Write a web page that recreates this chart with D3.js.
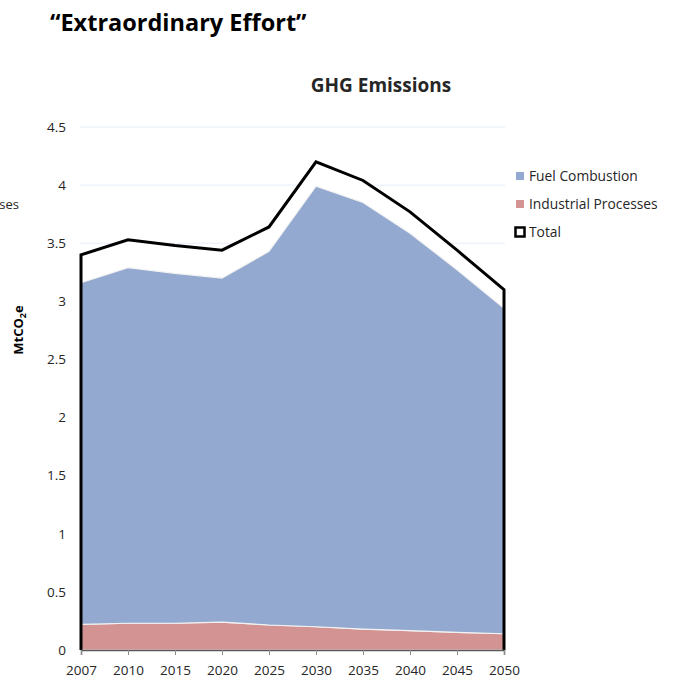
<!DOCTYPE html>
<html>
<head>
<meta charset="utf-8">
<script src="https://cdn.jsdelivr.net/npm/d3@7"></script>
<style>
  body { margin: 0; background: #fff; }
  svg text { font-family: "Open Sans", "DejaVu Sans", sans-serif; fill: #262626; }
</style>
</head>
<body>
<svg width="676" height="683"></svg>
<script>
// data
var years = ["2007", "2010", "2015", "2020", "2025", "2030", "2035", "2040", "2045", "2050"];
var industrial = [0.22, 0.23, 0.23, 0.24, 0.215, 0.20, 0.18, 0.166, 0.152, 0.14];
var fuel = [2.94, 3.06, 3.01, 2.96, 3.215, 3.79, 3.67, 3.42, 3.12, 2.80];
var total = [3.40, 3.53, 3.48, 3.44, 3.64, 4.20, 4.04, 3.77, 3.44, 3.10];
var yTicks = [0, 0.5, 1, 1.5, 2, 2.5, 3, 3.5, 4, 4.5];

var svg = d3.select("svg");
var margin = {left: 81, right: 172, top: 127, bottom: 33};
var width = 676 - margin.left - margin.right,
    height = 683 - margin.top - margin.bottom;

var x = d3.scalePoint().domain(years).range([0, width]);
var y = d3.scaleLinear().domain([0, 4.5]).range([height, 0]);

var g = svg.append("g").attr("transform", "translate(" + margin.left + "," + margin.top + ")");

// page title + chart title
svg.append("text").attr("x", 50).attr("y", 31)
    .style("font-size", "23.5px").style("font-weight", "bold").style("fill", "#000")
    .text("\u201CExtraordinary Effort\u201D");
svg.append("text").attr("x", 381).attr("y", 92).attr("text-anchor", "middle")
    .style("font-size", "19px").style("font-weight", "bold")
    .text("GHG Emissions");
// leftover text of neighbouring chart, cut off at the edge as in the source
svg.append("text").attr("x", 19).attr("y", 209).attr("text-anchor", "end")
    .style("font-size", "13px").text("Industrial Processes");

// gridlines
g.selectAll(".grid").data(yTicks.slice(1)).enter().append("line")
    .attr("x1", -1).attr("x2", width + 1)
    .attr("y1", function(d) { return y(d); }).attr("y2", function(d) { return y(d); })
    .attr("stroke", "#e6ecf6").attr("stroke-width", 1);

// total area, white fill
var totalArea = d3.area()
    .x(function(d, i) { return x(years[i]); })
    .y0(y(0)).y1(function(d) { return y(d); });
g.append("path").datum(total)
    .attr("d", totalArea)
    .attr("fill", "#fff");

// stacked areas
var rows = years.map(function(yr, i) { return {year: yr, industrial: industrial[i], fuel: fuel[i]}; });
var stack = d3.stack().keys(["industrial", "fuel"]);
var series = stack(rows);
var colors = {industrial: "#d39392", fuel: "#94a9d0"};
var area = d3.area()
    .x(function(d) { return x(d.data.year); })
    .y0(function(d) { return y(d[0]); })
    .y1(function(d) { return y(d[1]); });
g.selectAll(".layer").data(series).enter().append("path")
    .attr("d", area)
    .attr("fill", function(d) { return colors[d.key]; })
    .attr("stroke", "#f2f2f2").attr("stroke-width", 1.2);

// total outline on top (left edge, top line, right edge)
var outline = [[x(years[0]), y(0)]]
    .concat(total.map(function(d, i) { return [x(years[i]), y(d)]; }))
    .concat([[x(years[years.length - 1]), y(0)]]);
g.append("path")
    .attr("d", d3.line()(outline))
    .attr("fill", "none").attr("stroke", "#000").attr("stroke-width", 3)
    .attr("stroke-linejoin", "miter");

// axes
var xAxis = g.append("g").attr("transform", "translate(0," + height + ")")
    .call(d3.axisBottom(x).tickSize(5).tickPadding(10));
xAxis.select(".domain").attr("stroke", "#595959").attr("stroke-width", 1.5);
xAxis.selectAll(".tick line").attr("stroke", "#8c8c8c");
xAxis.selectAll("text").style("font-size", "13.5px").style("fill", "#262626");

var yAxis = g.append("g")
    .call(d3.axisLeft(y).tickValues(yTicks).tickSize(0).tickPadding(15)
        .tickFormat(function(d) { return d3.format("")(d); }));
yAxis.select(".domain").remove();
yAxis.selectAll("text").style("font-size", "13.5px").style("fill", "#262626");

// y label
var yl = svg.append("text").attr("transform", "translate(23,330) rotate(-90)")
    .attr("text-anchor", "middle").style("font-size", "13px").style("font-weight", "bold")
    .style("fill", "#000");
yl.append("tspan").text("MtCO");
yl.append("tspan").attr("dy", 3).style("font-size", "9px").text("2");
yl.append("tspan").attr("dy", -3).text("e");

// legend
var legend = [
  {name: "Fuel Combustion", fill: colors.fuel, stroke: "none"},
  {name: "Industrial Processes", fill: colors.industrial, stroke: "none"},
  {name: "Total", fill: "#fff", stroke: "#000"}
];
var lg = svg.append("g").attr("transform", "translate(514,170)");
var li = lg.selectAll("g").data(legend).enter().append("g")
    .attr("transform", function(d, i) { return "translate(0," + i * 28 + ")"; });
li.append("rect")
    .attr("x", function(d) { return d.stroke === "none" ? 2 : 1.5; })
    .attr("y", function(d) { return d.stroke === "none" ? 2 : 1.5; })
    .attr("width", function(d) { return d.stroke === "none" ? 8 : 9; })
    .attr("height", function(d) { return d.stroke === "none" ? 8 : 9; })
    .attr("fill", function(d) { return d.fill; })
    .attr("stroke", function(d) { return d.stroke; }).attr("stroke-width", 2.5);
li.append("text").attr("x", 15).attr("y", 11)
    .style("font-size", "13.8px").text(function(d) { return d.name; });
</script>
</body>
</html>
